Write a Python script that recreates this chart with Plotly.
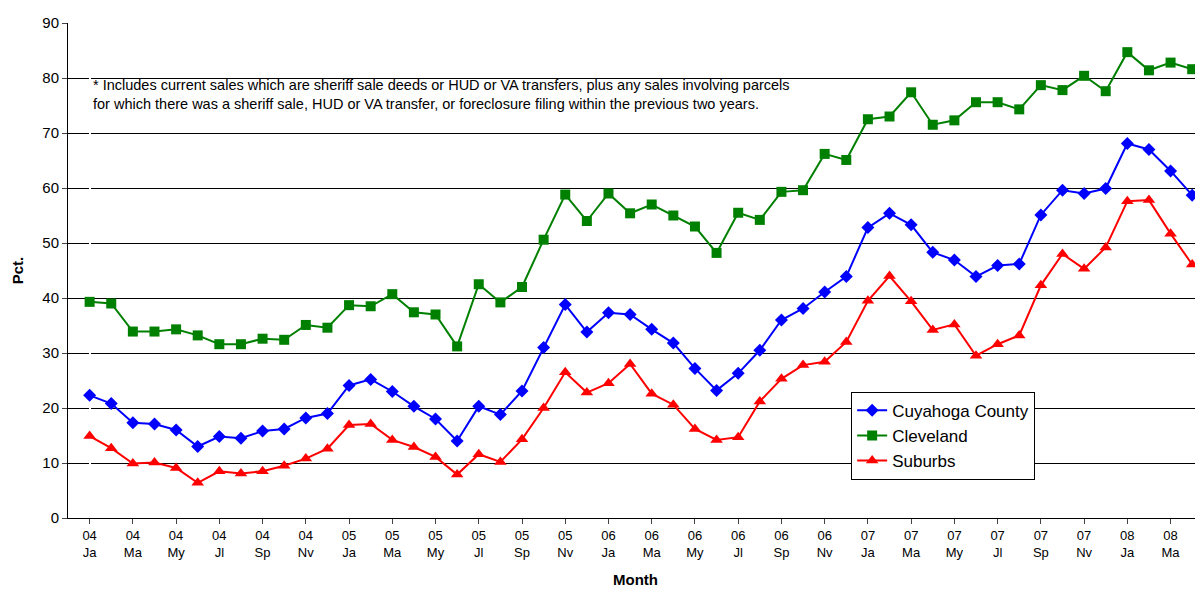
import plotly.graph_objects as go

months = ["Ja", "Fb", "Ma", "Ap", "My", "Jn", "Jl", "Au", "Sp", "Oc", "Nv", "Dc"]
years = ["04", "05", "06", "07", "08"]
periods = [f"{y}-{m}" for y in years for m in months][:52]

cuyahoga = [22.3, 20.8, 17.3, 17.1, 16.0, 13.0, 14.8, 14.5, 15.8, 16.2, 18.2, 19.0,
            24.1, 25.2, 23.0, 20.3, 18.0, 14.0, 20.3, 18.8, 23.1, 31.0, 38.8, 33.8,
            37.3, 37.0, 34.3, 31.8, 27.2, 23.2, 26.3, 30.5, 36.0, 38.1, 41.1, 43.9,
            52.8, 55.4, 53.3, 48.3, 46.9, 43.9, 45.9, 46.2, 55.1, 59.6, 59.0, 59.9,
            68.1, 67.0, 63.1, 58.7]
cleveland = [39.3, 39.0, 33.9, 33.9, 34.3, 33.2, 31.6, 31.6, 32.6, 32.4, 35.1, 34.6,
             38.7, 38.5, 40.7, 37.4, 37.0, 31.2, 42.5, 39.2, 42.0, 50.6, 58.8, 54.0,
             59.0, 55.4, 57.0, 55.0, 53.0, 48.2, 55.5, 54.2, 59.3, 59.6, 66.2, 65.1,
             72.5, 73.0, 77.4, 71.5, 72.3, 75.6, 75.6, 74.3, 78.7, 77.8, 80.4, 77.6,
             84.7, 81.4, 82.8, 81.6]
suburbs = [14.9, 12.7, 9.9, 10.1, 9.1, 6.4, 8.5, 8.1, 8.5, 9.5, 10.8, 12.6,
           16.9, 17.1, 14.2, 12.9, 11.1, 7.9, 11.6, 10.2, 14.3, 20.0, 26.5, 22.8,
           24.5, 28.0, 22.6, 20.6, 16.2, 14.2, 14.7, 21.2, 25.3, 27.8, 28.4, 32.0,
           39.5, 44.0, 39.4, 34.2, 35.2, 29.5, 31.6, 33.2, 42.3, 48.0, 45.3, 49.2,
           57.6, 57.8, 51.7, 46.1]

x = list(range(len(periods)))
tickvals = x[::2]
ticktext = [f"{p[:2]}<br>{p[3:]}" for p in periods[::2]]

fig = go.Figure()
for name, vals, color, sym, size in [
    ("Cuyahoga County", cuyahoga, "#0000FF", "diamond", 10),
    ("Cleveland", cleveland, "#008000", "square", 10),
    ("Suburbs", suburbs, "#FF0000", "triangle-up", 11),
]:
    fig.add_trace(go.Scatter(x=x, y=vals, name=name, mode="lines+markers",
                             line=dict(color=color, width=2),
                             marker=dict(symbol=sym, size=size, color=color),
                             cliponaxis=False))

fig.add_annotation(
    text="* Includes current sales which are sheriff sale deeds or HUD or VA transfers, plus any sales involving parcels<br>"
         "for which there was a sheriff sale, HUD or VA transfer, or foreclosure filing within the previous two years.",
    xref="paper", yref="y", x=0.02, y=80.5, xanchor="left", yanchor="top",
    align="left", showarrow=False, font=dict(size=14.5, color="black"))

fig.update_layout(
    width=1195, height=592, paper_bgcolor="white", plot_bgcolor="white",
    margin=dict(l=60, r=0, t=15, b=82),
    font=dict(family="Liberation Sans, Arial", color="black"),
    legend=dict(x=0.69, y=0.255, xanchor="left", yanchor="top",
                bordercolor="black", borderwidth=1, bgcolor="white",
                font=dict(size=17)),
    xaxis=dict(range=[-1, 51.5], tickvals=tickvals, ticktext=ticktext,
               showgrid=False, showline=True, linecolor="black", ticks="outside",
               tickfont=dict(size=13), automargin=False,
               title=dict(text="<b>Month</b>", font=dict(size=15))),
    yaxis=dict(range=[0, 90], dtick=10, showgrid=True, gridcolor="black",
               gridwidth=1, showline=True, linecolor="black", ticks="outside",
               tickfont=dict(size=15), automargin=False,
               title=dict(text="<b>Pct.</b>", font=dict(size=15))),
)

fig.write_html("out.html")
